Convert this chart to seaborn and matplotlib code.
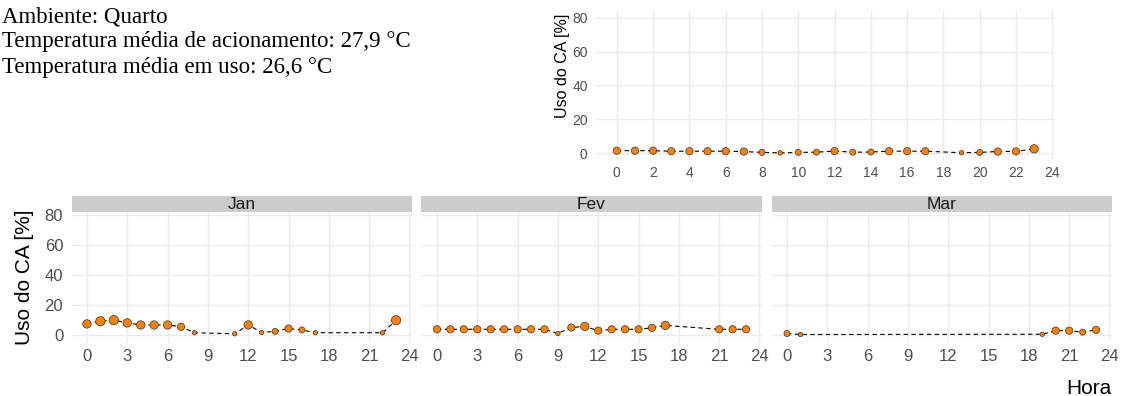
import numpy as np
import pandas as pd
import matplotlib
matplotlib.use('Agg')
import matplotlib.pyplot as plt
import seaborn as sns

# painel geral (todos os meses)
horas_geral = [0, 1, 2, 3, 4, 5, 6, 7, 8, 9, 10, 11, 12, 13, 14, 15, 16, 17, 19, 20, 21, 22, 23]
uso_geral = [1.5, 1.5, 1.5, 1.2, 1.2, 1.2, 1.2, 1.0, 0.5, 0.2, 0.5, 0.6, 1.3, 0.6, 0.7,
             1.2, 1.2, 1.2, 0.3, 0.5, 1.0, 1.1, 2.6]
dias_geral = [3, 3, 3, 3, 3, 3, 3, 3, 2, 1, 2, 2, 3, 2, 2, 3, 3, 3, 1, 2, 3, 3, 4]

# paineis mensais
meses = ['Jan', 'Fev', 'Mar']
horas_jan = [0, 1, 2, 3, 4, 5, 6, 7, 8, 11, 12, 13, 14, 15, 16, 17, 22, 23]
uso_jan = [7.1, 8.9, 9.6, 7.8, 6.4, 6.4, 6.4, 5.2, 1.2, 0.5, 6.4, 1.4, 2.1, 4.0, 3.1, 1.2, 1.2, 9.6]
dias_jan = [4, 5, 5, 4, 4, 4, 4, 3, 1, 1, 4, 1, 2, 3, 2, 1, 1, 5]

horas_fev = [0, 1, 2, 3, 4, 5, 6, 7, 8, 9, 10, 11, 12, 13, 14, 15, 16, 17, 21, 22, 23]
uso_fev = [3.5, 3.5, 3.5, 3.5, 3.5, 3.5, 3.5, 3.5, 3.5, 0.7, 4.7, 5.4, 2.6, 3.5, 3.5,
           3.5, 4.5, 6.1, 3.5, 3.5, 3.5]
dias_fev = [3, 3, 3, 3, 3, 3, 3, 3, 3, 1, 3, 4, 3, 3, 3, 3, 3, 4, 3, 3, 3]

horas_mar = [0, 1, 19, 20, 21, 22, 23]
uso_mar = [0.7, 0.0, 0.2, 2.6, 2.6, 1.6, 3.1]
dias_mar = [2, 1, 1, 3, 3, 2, 3]

texto = ['Ambiente: Quarto',
         'Temperatura média de acionamento: 27,9 °C',
         'Temperatura média em uso: 26,6 °C']

W, H = 1121, 396
laranja = '#FF8000'
cinza_txt = '#4D4D4D'

sns.set_theme(style='whitegrid')
plt.rcParams['font.family'] = ['Liberation Sans', 'DejaVu Sans']


def eixo(fig, left, top, width, height):
    return fig.add_axes([left / W, 1 - (top + height) / H, width / W, height / H])


def desenha(ax, horas, uso, dias, xticks, fs):
    df = pd.DataFrame({'hora': horas, 'uso': uso, 'dias': dias})
    sns.lineplot(data=df, x='hora', y='uso', ax=ax, color='black', lw=0.8,
                 dashes=False, linestyle=(0, (4, 3)), zorder=2)
    sns.scatterplot(data=df, x='hora', y='uso', size='dias', sizes=(10, 45), size_norm=(1, 5),
                    ax=ax, color=laranja, edgecolor='#333333', linewidth=0.5,
                    legend=False, zorder=3)
    ax.set_xlim(-1.15, 24.15)
    ax.set_xticks(xticks)
    ax.set_yticks([0, 20, 40, 60, 80])
    ax.set_xlabel('')
    ax.set_ylabel('')
    ax.grid(True, color='#EBEBEB', lw=1.0)
    ax.set_facecolor('white')
    for s in ax.spines.values():
        s.set_visible(False)
    ax.tick_params(length=0, labelsize=fs, labelcolor=cinza_txt)


fig = plt.figure(figsize=(W / 100, H / 100), dpi=100)

# texto no canto superior esquerdo
for i, linha in enumerate(texto):
    fig.text(2 / W, 1 - (17 + 25 * i) / H, linha, family='Liberation Serif', fontsize=16.5,
             va='center', ha='left', color='black')

# painel superior
ax0 = eixo(fig, 596, 11, 459, 149)
desenha(ax0, horas_geral, uso_geral, dias_geral, range(0, 25, 2), 10)
ax0.set_ylim(-4, 84)
ax0.tick_params(axis='x', pad=4)
ax0.tick_params(axis='y', pad=6)
fig.text(562 / W, 1 - 66 / H, 'Uso do CA [%]', rotation=90, fontsize=11.5,
         ha='center', va='center', color='black')

# paineis mensais
dados = [(horas_jan, uso_jan, dias_jan), (horas_fev, uso_fev, dias_fev),
         (horas_mar, uso_mar, dias_mar)]
lefts = [71.5, 421.5, 771.5]
for i, (mes, (h, u, d)) in enumerate(zip(meses, dados)):
    ax = eixo(fig, lefts[i], 212, 340, 130)
    desenha(ax, h, u, d, range(0, 25, 3), 12)
    ax.set_ylim(-5, 82)
    ax.tick_params(axis='x', pad=5)
    ax.tick_params(axis='y', pad=6)
    if i > 0:
        ax.set_yticklabels([])
    st = eixo(fig, lefts[i], 196, 340, 16)
    st.set_facecolor('#CCCCCC')
    st.set_xticks([])
    st.set_yticks([])
    st.grid(False)
    for s in st.spines.values():
        s.set_visible(False)
    st.text(0.5, 0.45, mes, transform=st.transAxes, ha='center', va='center',
            fontsize=12.5, color='#1A1A1A')

fig.text(25 / W, 1 - 277 / H, 'Uso do CA [%]', rotation=90, fontsize=15,
         ha='center', va='center', color='black')
fig.text(1111 / W, 1 - 388 / H, 'Hora', fontsize=15, ha='right', va='center', color='black')

fig.savefig('out.png', dpi=100)
